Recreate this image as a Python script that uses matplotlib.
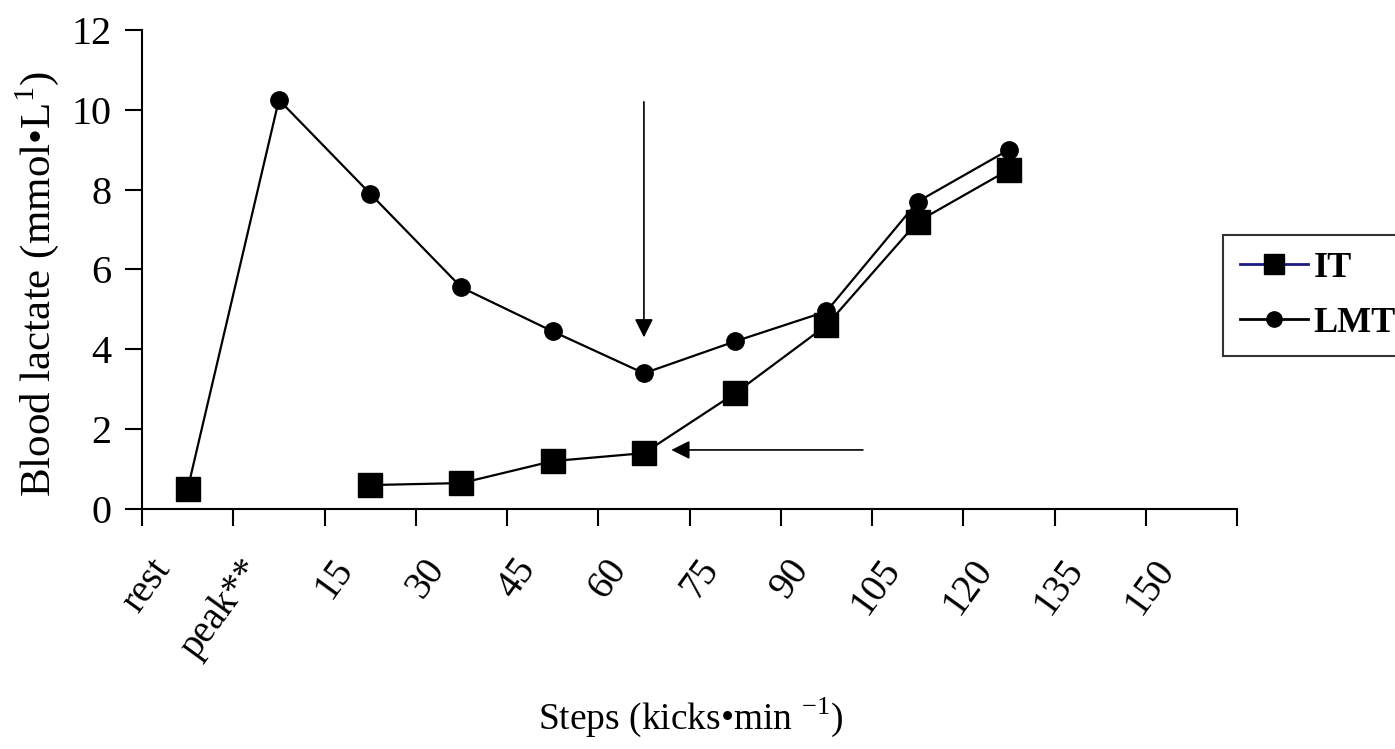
import numpy as np
import matplotlib.pyplot as plt
import matplotlib.transforms as mtransforms

plt.rcParams['font.family'] = ['Liberation Serif', 'DejaVu Serif']
plt.rcParams['mathtext.fontset'] = 'custom'
plt.rcParams['mathtext.rm'] = 'Liberation Serif'

# données
categories = ['rest', 'peak**', '15', '30', '45', '60', '75', '90', '105', '120', '135', '150']
it_values = [0.5, np.nan, 0.6, 0.65, 1.2, 1.4, 2.9, 4.6, 7.2, 8.5]
lmt_values = [0.5, 10.25, 7.9, 5.55, 4.45, 3.4, 4.2, 4.95, 7.7, 9.0]
y_ticks = [0, 2, 4, 6, 8, 10, 12]

# flèches (position x en index de catégorie, y en mmol/L)
arrow_down = [(5.0, 10.2), (5.0, 4.3)]
arrow_left = [(7.4, 1.48), (5.3, 1.48)]

fig = plt.figure(figsize=(13.95, 7.49), dpi=100)
ax = fig.add_axes([0.1018, 0.3204, 0.785, 0.6396])

x = np.arange(len(categories))
ax.plot(x[:len(lmt_values)], lmt_values, color='black', lw=1.6, marker='o',
        markersize=12.5, label='LMT', zorder=3)
ax.plot(x[:len(it_values)], it_values, color='black', lw=1.6, marker='s',
        markersize=17, label='IT', zorder=4)

ax.set_xlim(-0.5, len(categories) - 0.5)
ax.set_ylim(0, 12)
ax.set_yticks(y_ticks)
ax.set_xticks(np.arange(len(categories) + 1) - 0.5)
ax.set_xticklabels([])
ax.set_xticks(x, minor=True)
ax.set_xticklabels(categories, minor=True, rotation=54, ha='right', va='top',
                   rotation_mode='anchor', fontsize=28)
ax.tick_params(axis='x', which='minor', length=0, pad=31)
ax.tick_params(axis='x', which='major', length=12, width=1.5, direction='out')
ax.tick_params(axis='y', length=12, width=1.5, labelsize=29, pad=10)

# décalage des étiquettes vers la gauche comme sur l'original
shift = mtransforms.ScaledTranslation(-39 / 100, 0, fig.dpi_scale_trans)
for lab in ax.get_xticklabels(minor=True):
    lab.set_transform(lab.get_transform() + shift)

for side in ['top', 'right']:
    ax.spines[side].set_visible(False)
for side in ['left', 'bottom']:
    ax.spines[side].set_linewidth(1.5)

ax.set_ylabel('Blood lactate (mmol•L$^{1}$)', fontsize=31)
ax.yaxis.set_label_coords(-0.074, 0.47)
ax.set_xlabel('Steps (kicks•min $^{-1}$)', fontsize=27)
ax.xaxis.set_label_coords(0.501, -0.39)

for start, end in [arrow_down, arrow_left]:
    ax.annotate('', xy=end, xytext=start,
                arrowprops=dict(arrowstyle='-|>', color='black', lw=1.2,
                                mutation_scale=28, shrinkA=0, shrinkB=0))

leg_it = plt.Line2D([], [], color='#1a1a80', lw=2, marker='s', markersize=14,
                    markerfacecolor='black', markeredgecolor='black')
leg_lmt = plt.Line2D([], [], color='black', lw=2, marker='o', markersize=11)
leg = fig.legend([leg_it, leg_lmt], ['IT', 'LMT'], loc='center left',
                 bbox_to_anchor=(0.877, 0.605), frameon=True, fancybox=False,
                 edgecolor='black', fontsize=26, handlelength=1.9,
                 handletextpad=0.15, borderpad=0.45, borderaxespad=0,
                 labelspacing=0.6)
leg.get_frame().set_linewidth(1.5)
for t in leg.get_texts():
    t.set_fontweight('bold')

fig.savefig('out.png', dpi=100)
